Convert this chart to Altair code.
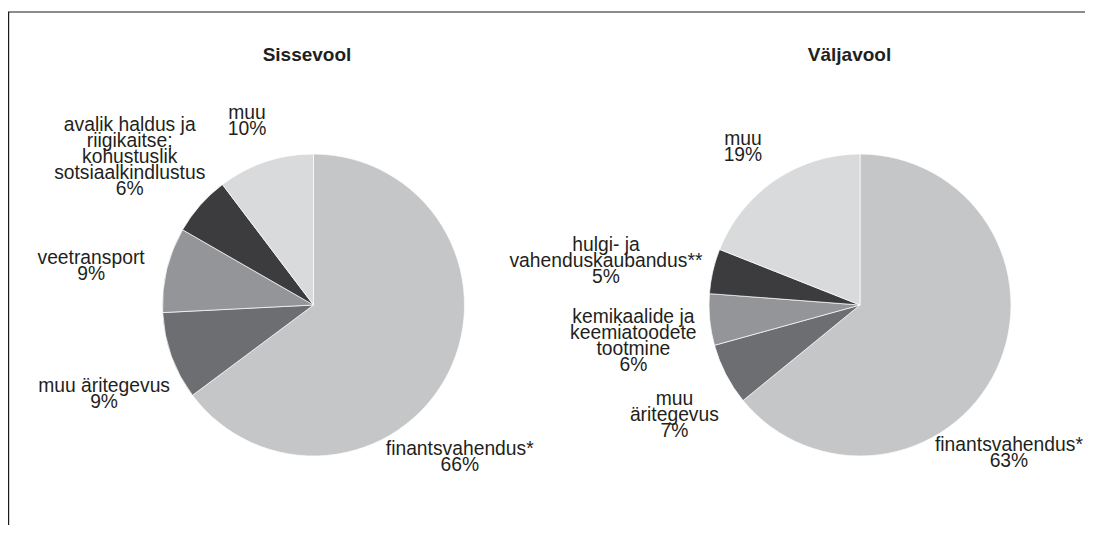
import altair as alt
import pandas as pd
import numpy as np

TITLES = ["Sissevool", "Väljavool"]
CATS_IN = ["finantsvahendus*", "muu äritegevus", "veetransport",
           "avalik haldus ja\nriigikaitse;\nkohustuslik\nsotsiaalkindlustus", "muu"]
VALS_IN = [64.8, 9.4, 9.1, 6.4, 10.3]
PCT_IN = ["66%", "9%", "9%", "6%", "10%"]
CATS_OUT = ["finantsvahendus*", "muu\näritegevus",
            "kemikaalide ja\nkeemiatoodete\ntootmine",
            "hulgi- ja\nvahenduskaubandus**", "muu"]
VALS_OUT = [64.1, 6.6, 5.5, 4.8, 19.0]
PCT_OUT = ["63%", "7%", "6%", "5%", "19%"]
COLORS = ["#c5c6c8", "#6d6e71", "#939598", "#3c3c3e", "#d9dadc"]

# ---- layout / style ----
W, H = 1077, 517
CX = [305.5, 852]
CY = 297
R = 151
FONT = "Liberation Sans"
FS = 19.3
LH = 16
CHAR_W = 9.0
R0 = 167
K = 26.5
CLEAR = 158      # minimum distance of a label box from the pie centre
TXT = "#231f20"


def box_radius(a, hw, hh, dmin):
    """Smallest radius along angle a at which a hw x hh half-size box clears dmin."""
    ux, uy = np.sin(a), -np.cos(a)
    lo, hi = 0.0, 600.0
    for _ in range(50):
        m = (lo + hi) / 2
        cx, cy = m * ux, m * uy
        nx = max(abs(cx) - hw, 0.0)
        ny = max(abs(cy) - hh, 0.0)
        if np.hypot(nx, ny) >= dmin:
            hi = m
        else:
            lo = m
    return hi


def frame(cats, vals, pcts):
    df = pd.DataFrame({"cat": cats, "value": vals, "pct": pcts,
                       "idx": list(range(len(cats)))})
    df["label"] = df["cat"] + "\n" + df["pct"]
    tot = df["value"].sum()
    mid = (df["value"].cumsum() - df["value"] / 2) / tot * 2 * np.pi
    lines = df["label"].str.split("\n")
    w = lines.apply(lambda L: max(len(s) for s in L)) * CHAR_W
    df["nl"] = lines.apply(len)
    h = df["nl"] * LH
    s = np.abs(np.sin(mid)).clip(1e-6)
    c = np.abs(np.cos(mid)).clip(1e-6)
    r_a = R0 + np.minimum(w / 2 / s, h / 2 / c) + K * np.cos(mid)
    r_b = [box_radius(a, ww / 2, hh / 2, CLEAR) for a, ww, hh in zip(mid, w, h)]
    df["r"] = np.maximum(r_a, r_b)
    return df


def pie(df, cx):
    arcs = alt.Chart(df).mark_arc(outerRadius=R, stroke="#ffffff", strokeWidth=0.7).encode(
        theta=alt.Theta("value:Q", stack=True),
        order=alt.Order("idx:Q"),
        color=alt.Color("idx:N", scale=alt.Scale(domain=list(range(5)), range=COLORS), legend=None),
        x=alt.value(cx),
        y=alt.value(CY),
    )
    tbase = alt.Chart(df).transform_joinaggregate(
        tot="sum(value)"
    ).transform_stack(
        stack="value", as_=["v0", "v1"], groupby=[], sort=[alt.SortField("idx", "ascending")]
    ).transform_calculate(
        a="(datum.v0 + datum.v1) / 2 / datum.tot * 2 * PI"
    ).transform_calculate(
        px="datum.r * sin(datum.a)",
        py=f"-datum.r * cos(datum.a) - (datum.nl - 1) * {LH} / 2",
    ).transform_calculate(
        r2="sqrt(datum.px * datum.px + datum.py * datum.py)",
        a2="atan2(datum.px, -datum.py)",
    ).transform_calculate(
        tpos="((datum.a2 < 0 ? datum.a2 + 2 * PI : datum.a2) / (2 * PI)) * datum.tot"
    ).encode(
        theta=alt.Theta("tpos:Q", stack=None),
        radius=alt.Radius("r2:Q", scale=None),
        text="label:N",
        x=alt.value(cx),
        y=alt.value(CY),
    )
    txt = dict(font=FONT, fontSize=FS, lineHeight=LH, lineBreak="\n", color=TXT)
    labels = tbase.mark_text(dy=14, **txt).transform_filter("datum.idx > 0")
    first = tbase.mark_text(dx=-58, dy=50, **txt).transform_filter("datum.idx == 0")
    return arcs + labels + first


one = pd.DataFrame({"k": [0]})
title_layers = [
    alt.Chart(one).mark_text(font=FONT, fontSize=19, fontWeight="bold", color=TXT,
                             baseline="alphabetic").encode(
        text=alt.value(TITLES[i]), x=alt.value(tx), y=alt.value(53))
    for i, tx in enumerate([299, 841.5])
]
border_top = alt.Chart(one).mark_rule(color="#1a1a1a", strokeWidth=1.2).encode(
    x=alt.value(0), x2=alt.value(W), y=alt.value(4))
border_left = alt.Chart(one).mark_rule(color="#1a1a1a", strokeWidth=1.2).encode(
    x=alt.value(0.6), y=alt.value(4), y2=alt.value(H))

chart = alt.layer(
    pie(frame(CATS_IN, VALS_IN, PCT_IN), CX[0]),
    pie(frame(CATS_OUT, VALS_OUT, PCT_OUT), CX[1]),
    *title_layers, border_top, border_left,
).properties(
    width=W, height=H, padding=0,
    autosize=alt.AutoSizeParams(type="none"),
).configure_view(stroke=None)

chart.save("out.html", embed_options={"renderer": "svg", "actions": False})
